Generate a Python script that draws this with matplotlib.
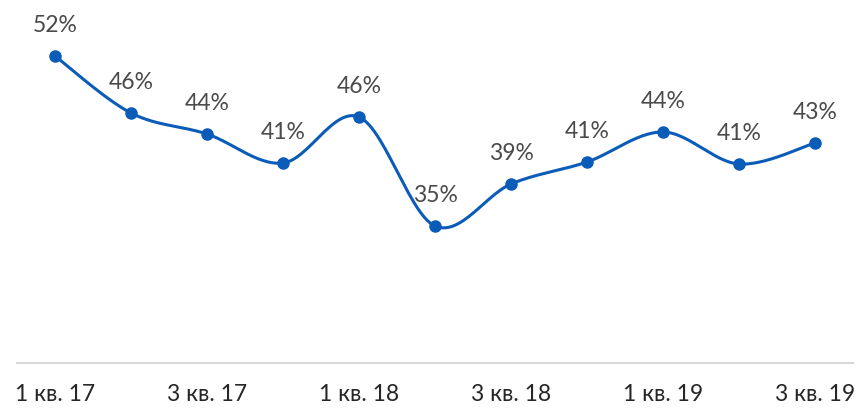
import numpy as np
import matplotlib
matplotlib.use('Agg')
import matplotlib.pyplot as plt

# data
quarters = ['1 кв. 17', '2 кв. 17', '3 кв. 17', '4 кв. 17', '1 кв. 18', '2 кв. 18',
            '3 кв. 18', '4 кв. 18', '1 кв. 19', '2 кв. 19', '3 кв. 19']
values = [52.0, 46.3, 44.2, 41.3, 45.9, 35.0, 39.2, 41.4, 44.4, 41.2, 43.3]
labels = ['52%', '46%', '44%', '41%', '46%', '35%', '39%', '41%', '44%', '41%', '43%']

LINE = '#0b5cb8'
TEXT = '#4a4a4a'
plt.rcParams['font.family'] = ['Lato', 'DejaVu Sans']


def smooth(x, y, n=30):
	# catmull-rom style bezier, like excel smoothed lines
	x = np.asarray(x, float)
	y = np.asarray(y, float)
	px = np.concatenate([[x[0]], x, [x[-1]]])
	py = np.concatenate([[y[0]], y, [y[-1]]])
	xs, ys = [], []
	t = np.linspace(0, 1, n)
	for i in range(len(x) - 1):
		p0 = np.array([px[i+1], py[i+1]])
		p3 = np.array([px[i+2], py[i+2]])
		p1 = p0 + (np.array([px[i+2], py[i+2]]) - np.array([px[i], py[i]])) / 6
		p2 = p3 - (np.array([px[i+3], py[i+3]]) - np.array([px[i+1], py[i+1]])) / 6
		b = ((1-t)**3)[:, None]*p0 + (3*(1-t)**2*t)[:, None]*p1 + (3*(1-t)*t**2)[:, None]*p2 + (t**3)[:, None]*p3
		xs.extend(b[:, 0])
		ys.extend(b[:, 1])
	return np.array(xs), np.array(ys)


fig = plt.figure(figsize=(8.59, 4.08), dpi=100)
ax = fig.add_axes([17/859, 45/408, 836/859, 363/408])

x = np.arange(len(values))
sx, sy = smooth(x, values)
ax.plot(sx, sy, color=LINE, lw=2.2, solid_capstyle='round', zorder=2)
ax.plot(x, values, 'o', color=LINE, ms=8, zorder=3)

for xi, v, lab in zip(x, values, labels):
	ax.annotate(lab, (xi, v), xytext=(0, 22), textcoords='offset points',
		ha='center', va='center', fontsize=16.5, color=TEXT)

ax.set_xlim(-0.5, 10.5)
ax.set_ylim(21.3, 57.6)
ax.set_xticks(x[::2])
ax.set_xticklabels(quarters[::2], fontsize=16.5, color='#262626')
ax.tick_params(axis='x', length=0, pad=15)
ax.set_yticks([])
for s in ['top', 'left', 'right']:
	ax.spines[s].set_visible(False)
ax.spines['bottom'].set_color('#d9d9d9')
ax.spines['bottom'].set_linewidth(1.5)

fig.savefig('out.png', dpi=100)
